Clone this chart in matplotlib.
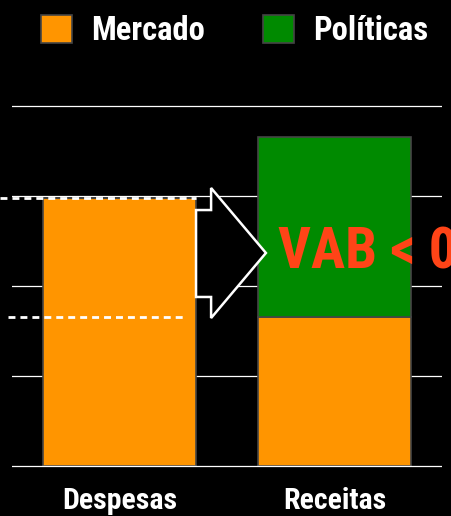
import matplotlib.pyplot as plt
from matplotlib.patches import Patch, Polygon

categorias = ["Despesas", "Receitas"]
mercado = [2.98, 1.66]
politicas = [0.0, 2.0]
grade = [0, 1, 2, 3, 4]
rotulo_vab = "VAB < 0"

laranja = "#FF9500"
verde = "#008A00"
vermelho = "#FF4417"
borda = "#454545"
fonte = ["Roboto Condensed", "Liberation Sans Narrow", "Roboto", "DejaVu Sans"]

fig = plt.figure(figsize=(4.52, 5.16), dpi=100, facecolor="black")
# 90 px por unidade, base em y=466 px
ax = fig.add_axes([12 / 452, (516 - 468.7) / 516, 430 / 452, 364.5 / 516])
ax.set_facecolor("black")

x = range(len(categorias))
ax.bar(x, mercado, width=0.712, color=laranja, edgecolor=borda, linewidth=1.2, zorder=3)
ax.bar(x, politicas, bottom=mercado, width=0.712, color=verde, edgecolor=borda, linewidth=1.2, zorder=3)

for g in grade:
    ax.axhline(g, color="white", linewidth=0.9, zorder=4 if g == 0 else 1)

# linhas tracejadas de referencia
ax.hlines(mercado[0], -0.556, 0.356, colors="white", linestyles=(0, (2.5, 1.8)),
          linewidth=2, zorder=4, clip_on=False)
ax.hlines(mercado[1], -0.519, 0.314, colors="white", linestyles=(0, (2.5, 1.8)),
          linewidth=2, zorder=4, clip_on=False)

# seta
seta = [(0.356, 2.844), (0.426, 2.844), (0.426, 3.089), (0.681, 2.367),
        (0.426, 1.644), (0.426, 1.878), (0.356, 1.878)]
ax.add_patch(Polygon(seta, closed=True, facecolor="black", edgecolor="white",
                     linewidth=1.8, zorder=5, clip_on=False))

ax.text(0.737, 2.367, rotulo_vab, color=vermelho, fontsize=41, fontweight="bold",
        family=fonte, ha="left", va="center", zorder=6, clip_on=False)

ax.set_xlim(-0.5, 1.5)
ax.set_ylim(-0.03, 4.02)
ax.set_xticks(list(x))
ax.set_xticklabels(categorias, color="white", fontsize=21.5, fontweight="bold", family=fonte)
ax.tick_params(axis="x", length=0, pad=13)
ax.set_yticks([])
for s in ax.spines.values():
    s.set_visible(False)

handles = [Patch(facecolor=laranja, edgecolor=borda, linewidth=1.2, label="Mercado"),
           Patch(facecolor=verde, edgecolor=borda, linewidth=1.2, label="Políticas")]
fig.legend(handles=handles, loc="center", bbox_to_anchor=(0.519, 0.94), ncol=2,
           frameon=False, handlelength=0.95, handleheight=0.95, handletextpad=0.6,
           columnspacing=1.75, labelcolor="white",
           prop={"family": fonte, "weight": "bold", "size": 23.5})

fig.savefig("out.png", dpi=100, facecolor="black")
